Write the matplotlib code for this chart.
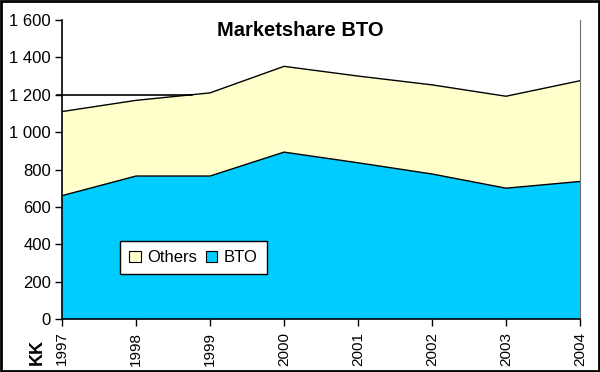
import matplotlib
matplotlib.use("Agg")
import matplotlib.pyplot as plt
from matplotlib.patches import Rectangle, Patch
from matplotlib.ticker import FuncFormatter

plt.rcParams['font.family'] = ['Liberation Sans', 'DejaVu Sans']

years = [1997, 1998, 1999, 2000, 2001, 2002, 2003, 2004]
bto = [660, 765, 765, 893, 836, 776, 700, 736]
total = [1110, 1170, 1210, 1352, 1300, 1253, 1192, 1275]
others = [t - b for t, b in zip(total, bto)]
yticks = [0, 200, 400, 600, 800, 1000, 1200, 1400, 1600]
ref_level = 1200
ref_span = [1996.93, 1998.75]

c_bto = '#00CCFF'
c_oth = '#FFFFCC'

fig = plt.figure(figsize=(6, 3.72), dpi=100)
ax = fig.add_axes([62/600, 1 - 319/372, (580-62)/600, (319-20)/372])

ax.stackplot(years, bto, others, colors=[c_bto, c_oth], linewidth=0)
ax.plot(years, bto, color='black', lw=1)
ax.plot(years, total, color='black', lw=1)
ax.plot(ref_span, [ref_level, ref_level], color='black', lw=1.2, clip_on=False)

ax.set_xlim(years[0], years[-1])
ax.set_ylim(0, 1600)
ax.set_xticks(years)
ax.set_xticklabels([str(y) for y in years], rotation=90, fontsize=11)
ax.set_yticks(yticks)
ax.yaxis.set_major_formatter(FuncFormatter(lambda v, p: f"{int(v):,}".replace(",", " ")))
ax.tick_params(axis='y', labelsize=12, length=5, width=1, direction='out', pad=3)
ax.tick_params(axis='x', length=5, width=1, direction='out', pad=4)

ax.spines['top'].set_visible(False)
ax.spines['right'].set_color('#707070')
for s in ['left', 'bottom']:
    ax.spines[s].set_linewidth(1.2)

fig.text(300/600, 1 - 31/372, 'Marketshare BTO', ha='center', va='center',
         fontsize=14.5, fontweight='bold')
fig.text(37/600, 1 - 352/372, 'KK', ha='center', va='center', rotation=90,
         fontsize=13, fontweight='bold')

handles = [Patch(facecolor=c_oth, edgecolor='black', lw=0.8),
           Patch(facecolor=c_bto, edgecolor='black', lw=0.8)]
leg = ax.legend(handles, ['Others', 'BTO'], ncol=2, loc='upper left',
                bbox_to_anchor=((120-62)/518, (319-241)/299), fontsize=12,
                frameon=True, fancybox=False, edgecolor='black', framealpha=1,
                handlelength=0.7, handleheight=0.7, handletextpad=0.4,
                columnspacing=0.5, borderpad=0.55, borderaxespad=0)
leg.get_frame().set_linewidth(1.0)

fig.patches.append(Rectangle((0.002, 0.003), 0.996, 0.994, transform=fig.transFigure,
                             fill=False, edgecolor='black', lw=2))

fig.savefig('out.png', dpi=100)
